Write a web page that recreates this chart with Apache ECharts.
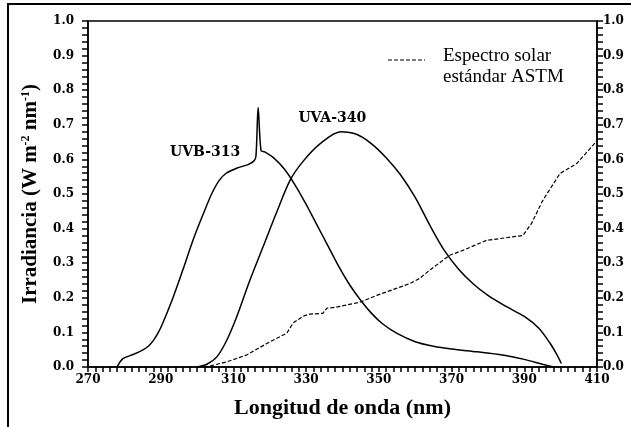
<!DOCTYPE html>
<html><head><meta charset="utf-8">
<script src="https://cdn.jsdelivr.net/npm/echarts@6/dist/echarts.min.js"></script>
<style>html,body{margin:0;padding:0;background:#fff}#c{width:631px;height:427px}</style>
</head><body><div id="c"></div>
<script>
const xTickLabels = [270, 290, 310, 330, 350, 370, 390, 410];
const yTickLabels = [0.0, 0.1, 0.2, 0.3, 0.4, 0.5, 0.6, 0.7, 0.8, 0.9, 1.0];
const seriesNames = ['UVB-313', 'UVA-340', 'Espectro solar\nestándar ASTM'];
const uvb313 = [[278,0],[279.6,0.024],[282.4,0.036],[285,0.049],[286.6,0.06],[288,0.077],[289.2,0.097],[290.4,0.123],[293,0.19],[296,0.278],[299,0.37],[302,0.45],[304,0.5],[306,0.538],[308,0.56],[311,0.575],[314,0.585],[315.6,0.595],[316.2,0.61],[316.8,0.75],[317.6,0.625],[318.6,0.622],[321,0.605],[324,0.572],[327,0.525],[330,0.47],[333,0.41],[336,0.35],[339,0.29],[342,0.237],[345,0.193],[348,0.155],[351,0.125],[355,0.097],[360,0.073],[365,0.06],[370,0.052],[377,0.044],[384,0.035],[390,0.022],[395,0.008],[398,0]];
const uva340 = [[300,0],[302.7,0.008],[305.5,0.03],[308.2,0.078],[310.9,0.145],[314.5,0.25],[318.1,0.346],[322,0.45],[325.6,0.54],[329.2,0.595],[333.8,0.645],[339.5,0.68],[344,0.672],[348,0.645],[352,0.605],[356,0.555],[360,0.49],[364,0.41],[368,0.337],[372,0.282],[376,0.24],[380,0.207],[385,0.175],[390,0.146],[394,0.112],[397,0.07],[399,0.035],[400.2,0.01]];
const solarASTM = [[302,0],[303.6,0.003],[308.2,0.015],[313.7,0.035],[319.2,0.068],[324.7,0.098],[326.4,0.127],[329.2,0.147],[331,0.153],[334.6,0.155],[335.7,0.17],[338.3,0.173],[344.7,0.187],[349.4,0.207],[358.5,0.241],[361.2,0.256],[364,0.28],[369.5,0.323],[373.1,0.337],[379.6,0.366],[389.6,0.38],[392,0.415],[395,0.48],[399.8,0.559],[404.4,0.588],[410,0.654]];
const labelPos = {uvb: [302.2, 0.62], uva: [337.2, 0.719]};

const chart = echarts.init(document.getElementById('c'), null, {renderer: 'canvas'});
const tickFont = {fontFamily: 'DejaVu Serif', fontWeight: 'bold', fontSize: 12, color: '#000'};
function yAxisCfg(pos, margin) {
  return {
    type: 'value', position: pos, min: 0, max: 1, interval: 0.1,
    axisLine: {show: true, lineStyle: {color: '#000', width: 1.5}},
    axisTick: {show: true, length: 6, lineStyle: {color: '#000', width: 1.5}},
    minorTick: {show: true, splitNumber: 5, length: 6, lineStyle: {color: '#000', width: 1.5}},
    splitLine: {show: false},
    axisLabel: Object.assign({margin: margin, formatter: v => v.toFixed(1)}, tickFont)
  };
}
const yLeft = yAxisCfg('left', 14);
yLeft.name = '{b|Irradiancia (W m}{s|-2}{b| nm}{s|-1}{b|)}';
yLeft.nameLocation = 'middle';
yLeft.nameGap = 46;
yLeft.nameTextStyle = {rich: {
  b: {fontFamily: 'Liberation Serif', fontWeight: 'bold', fontSize: 21, color: '#000'},
  s: {fontFamily: 'Liberation Serif', fontWeight: 'bold', fontSize: 12, color: '#000', verticalAlign: 'top', padding: [0,0,10,0]}
}};
const yRight = yAxisCfg('right', 6);

chart.setOption({
  animation: false,
  backgroundColor: '#fff',
  grid: {left: 88, right: 34, top: 21, bottom: 60, show: true, borderColor: '#000', borderWidth: 1.5},
  xAxis: {
    type: 'value', min: 270, max: 410, interval: 10,
    name: 'Longitud de onda (nm)', nameLocation: 'middle', nameGap: 30,
    nameTextStyle: {fontFamily: 'Liberation Serif', fontWeight: 'bold', fontSize: 22, color: '#000'},
    axisLine: {show: true, lineStyle: {color: '#000', width: 1.5}},
    axisTick: {show: true, length: 5, lineStyle: {color: '#000', width: 1.5}},
    minorTick: {show: true, splitNumber: 5, length: 5, lineStyle: {color: '#000', width: 1.5}},
    splitLine: {show: false},
    axisLabel: Object.assign({margin: 7, formatter: v => (xTickLabels.indexOf(v) >= 0 ? String(v) : '')}, tickFont)
  },
  yAxis: [yLeft, yRight],
  series: [
    {name: seriesNames[0], type: 'line', data: uvb313, showSymbol: false, smooth: 0.3,
     lineStyle: {color: '#000', width: 1.5},
     markPoint: {symbol: 'circle', symbolSize: 0, data: [{coord: labelPos.uvb, value: seriesNames[0]}],
       label: {show: true, position: 'inside', formatter: seriesNames[0], fontFamily: 'DejaVu Serif', fontWeight: 'bold', fontSize: 14, color: '#000'}}},
    {name: seriesNames[1], type: 'line', data: uva340, showSymbol: false, smooth: 0.3,
     lineStyle: {color: '#000', width: 1.5},
     markPoint: {symbol: 'circle', symbolSize: 0, data: [{coord: labelPos.uva, value: seriesNames[1]}],
       label: {show: true, position: 'inside', formatter: seriesNames[1], fontFamily: 'DejaVu Serif', fontWeight: 'bold', fontSize: 14, color: '#000'}}},
    {name: seriesNames[2], type: 'line', data: solarASTM, showSymbol: false, smooth: false,
     lineStyle: {color: '#000', width: 1.2, type: [4, 2]}}
  ],
  graphic: [
    {type: 'rect', shape: {x: 8, y: 4, width: 800, height: 600}, style: {fill: 'none', stroke: '#000', lineWidth: 2}, silent: true},
    {type: 'line', shape: {x1: 388, y1: 60, x2: 425, y2: 60}, style: {stroke: '#000', lineWidth: 1.2, lineDash: [4, 2]}},
    {type: 'text', left: 443, top: 46, style: {text: 'Espectro solar\nestándar ASTM', font: '19px "Liberation Serif"', fill: '#000', lineHeight: 21}}
  ]
});
</script></body></html>
